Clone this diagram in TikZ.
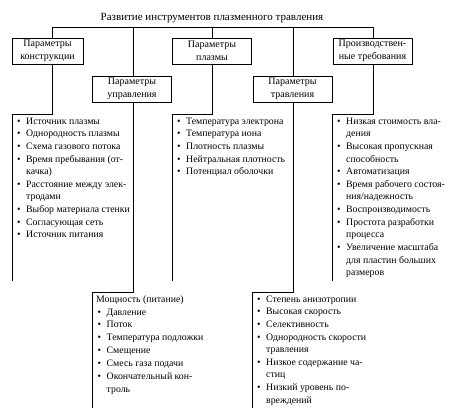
\documentclass[tikz,border=0pt]{standalone}
\usepackage{fontspec}
\setmainfont{Liberation Serif}
\usetikzlibrary{positioning,calc}

\newcommand\itm[2][0pt]{\strut\hspace*{#1}\makebox[9pt][l]{\textbullet}#2}
\newcommand\cnt[2][0pt]{\strut\hspace*{#1}\hspace*{9pt}#2}

\begin{document}
\begin{tikzpicture}[x=1pt,y=-1pt,
  box/.style={rectangle, draw, line width=0.7pt, minimum width=79pt, minimum height=26pt,
              inner sep=0pt, align=center, font=\fontsize{10}{13}\selectfont},
  lst/.style={anchor=north west, align=left, inner sep=0pt, yshift=-1pt,
              font=\fontsize{9.8}{12.65}\selectfont},
  ln/.style={line width=0.7pt}
]
\useasboundingbox (0,0) rectangle (474,411);

\node[font=\fontsize{11}{13}\selectfont] (title) at (212,18) {Развитие инструментов плазменного травления};

% boxes
\node[box, minimum width=71pt] (konstr) at (47.5,51) {Параметры\\конструкции};
\node[box] (plazma) at (212,51)   {Параметры\\плазмы};
\node[box] (treb)   at (372.5,51) {Производствен-\\ные требования};
\node[box] (uprav)  at (132,89)   {Параметры\\управления};
\node[box] (travl)  at (292.5,89) {Параметры\\травления};

% top bar
\coordinate (c1) at (52,27);
\coordinate (c2) at (133,27);
\coordinate (c3) at (212,27);
\coordinate (c4) at (293,27);
\coordinate (c5) at (373,27);
\draw[ln] (c1) -- (c5);
\draw[ln] (c1) -- (c1 |- konstr.north);
\draw[ln] (c2) -- (c2 |- uprav.north);
\draw[ln] (c3) -- (c3 |- plazma.north);
\draw[ln] (c4) -- (c4 |- travl.north);
\draw[ln] (c5) -- (c5 |- treb.north);

% list corners
\coordinate (kt) at (12,114);  \coordinate (kb) at (12,281);
\coordinate (pt) at (172,114); \coordinate (pb) at (172,281);
\coordinate (rt) at (332,114); \coordinate (rb) at (332,281);
\coordinate (ut) at (92,292);  \coordinate (ub) at (92,408);
\coordinate (tt) at (252,292); \coordinate (tb) at (252,408);

\draw[ln] (c1 |- konstr.south) |- (kt) -- (kb);
\draw[ln] (c3 |- plazma.south) |- (pt) -- (pb);
\draw[ln] (c5 |- treb.south)   |- (rt) -- (rb);
\draw[ln] (c2 |- uprav.south)  |- (ut) -- (ub);
\draw[ln] (c4 |- travl.south)  |- (tt) -- (tb);

% lists
\node[lst, xshift=5pt] (lkonstr) at (kt) {%
  \itm{Источник плазмы}\\
  \itm{Однородность плазмы}\\
  \itm{Схема газового потока}\\
  \itm{Время пребывания (от-}\\
  \cnt{качка)}\\
  \itm{Расстояние между элек-}\\
  \cnt{тродами}\\
  \itm{Выбор материала стенки}\\
  \itm{Согласующая сеть}\\
  \itm{Источник питания}};

\node[lst, xshift=5pt] (lplazma) at (pt) {%
  \itm{Температура электрона}\\
  \itm{Температура иона}\\
  \itm{Плотность плазмы}\\
  \itm{Нейтральная плотность}\\
  \itm{Потенциал оболочки}};

\node[lst, xshift=5pt] (ltreb) at (rt) {%
  \itm{Низкая стоимость вла-}\\
  \cnt{дения}\\
  \itm{Высокая пропускная}\\
  \cnt{способность}\\
  \itm{Автоматизация}\\
  \itm{Время рабочего состоя-}\\
  \cnt{ния/надежность}\\
  \itm{Воспроизводимость}\\
  \itm{Простота разработки}\\
  \cnt{процесса}\\
  \itm{Увеличение масштаба}\\
  \cnt{для пластин больших}\\
  \cnt{размеров}};

\node[lst, xshift=4pt, font=\fontsize{9.8}{12.85}\selectfont] (luprav) at (ut) {%
  \strut Мощность (питание)\\
  \itm[1.5pt]{Давление}\\
  \itm[1.5pt]{Поток}\\
  \itm[1.5pt]{Температура подложки}\\
  \itm[1.5pt]{Смещение}\\
  \itm[1.5pt]{Смесь газа подачи}\\
  \itm[1.5pt]{Окончательный кон-}\\
  \cnt[1.5pt]{троль}};

\node[lst, xshift=5pt] (ltravl) at (tt) {%
  \itm{Степень анизотропии}\\
  \itm{Высокая скорость}\\
  \itm{Селективность}\\
  \itm{Однородность скорости}\\
  \cnt{травления}\\
  \itm{Низкое содержание ча-}\\
  \cnt{стиц}\\
  \itm{Низкий уровень по-}\\
  \cnt{вреждений}};

\end{tikzpicture}
\end{document}
